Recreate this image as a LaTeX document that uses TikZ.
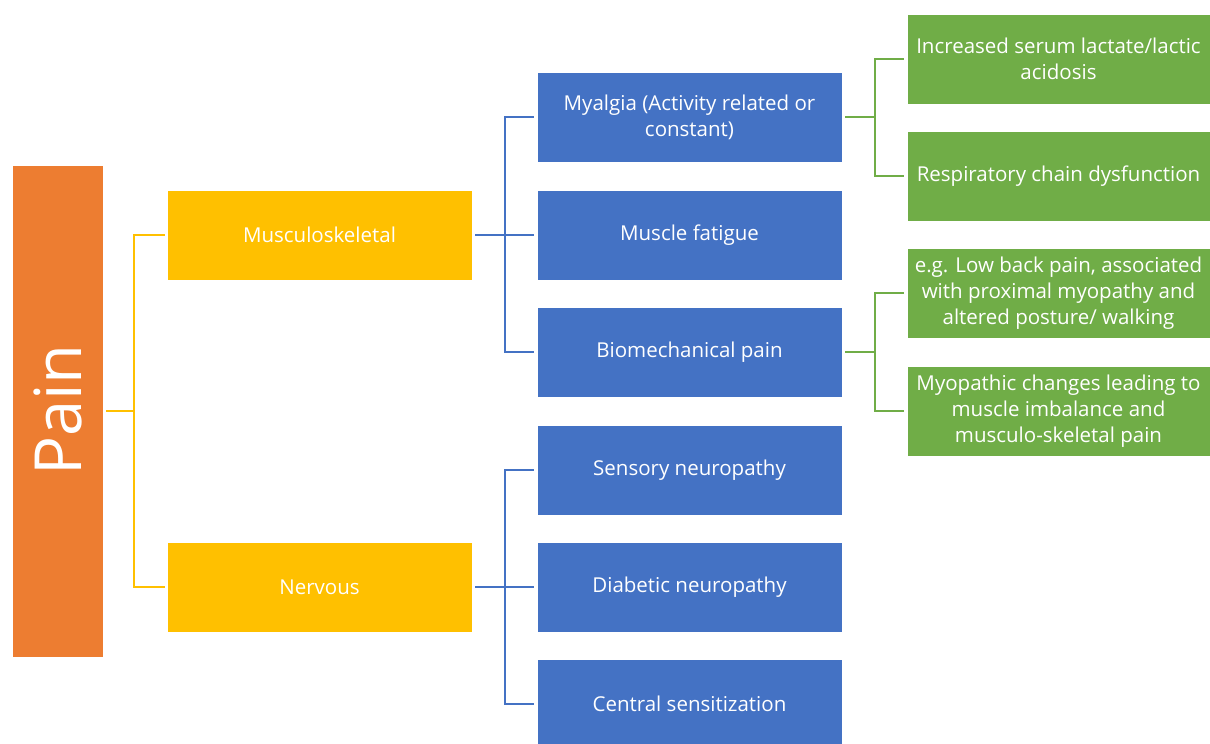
\documentclass[tikz,border=0pt]{standalone}
\usepackage{fontspec}
\setmainfont{Open Sans}
\definecolor{painor}{HTML}{ED7D31}
\definecolor{gold}{HTML}{FFC000}
\definecolor{bl}{HTML}{4472C4}
\definecolor{gr}{HTML}{70AD47}
\tikzset{
  box/.style={draw=white, line width=0.8pt, text=white, align=center, inner sep=0pt,
    font=\fontsize{20.5}{26}\selectfont},
  painbox/.style={box, fill=painor, minimum width=91, minimum height=492},
  lvone/.style={box, fill=gold, minimum width=305, minimum height=90},
  lvtwo/.style={box, fill=bl, minimum width=305, minimum height=90},
  lvthree/.style={box, fill=gr, minimum width=303, minimum height=90},
  yl/.style={draw=gold, line width=2pt},
  bll/.style={draw=bl, line width=2pt},
  grl/.style={draw=gr, line width=2pt},
}
\begin{document}
\begin{tikzpicture}[x=1pt,y=-1pt]
\useasboundingbox (0,0) rectangle (1210,744);
\node[painbox] (pain) at (57.5,411) {};
\node[text=white, rotate=90, font=\fontsize{65}{72}\selectfont] (paintxt) at (57.5,410) {Pain};
\node[lvone] (ms) at (319.5,235) {Musculoskeletal};
\node[lvone] (nv) at (319.5,587) {Nervous};
\node[lvtwo] (my) at (689.5,117) {Myalgia (Activity related or\\constant)};
\node[lvtwo] (mf) at (689.5,235) {Muscle fatigue};
\node[lvtwo] (bp) at (689.5,352) {Biomechanical pain};
\node[lvtwo] (sn) at (689.5,470) {Sensory neuropathy};
\node[lvtwo] (dn) at (689.5,587) {Diabetic neuropathy};
\node[lvtwo] (cs) at (689.5,704) {Central sensitization};
\node[lvthree] (g1) at (1058.5,59) {Increased serum lactate/lactic\\acidosis};
\node[lvthree] (g2) at (1058.5,176) {Respiratory chain dysfunction};
\node[lvthree] (g3) at (1058.5,293) {e.g. Low back pain, associated\\with proximal myopathy and\\altered posture/ walking};
\node[lvthree] (g4) at (1058.5,411) {Myopathic changes leading to\\muscle imbalance and\\musculo-skeletal pain};
% connectors
\coordinate (j1) at (134,411);
\draw[yl] ([xshift=3]pain.east) -- (j1);
\draw[yl] ([xshift=-2]ms.west) -| (j1) |- ([xshift=-2]nv.west);
\coordinate (j2) at (505,235);
\draw[bll] ([xshift=3]ms.east) -- ([xshift=-3]mf.west);
\draw[bll] ([xshift=-3]my.west) -| (j2) |- ([xshift=-3]bp.west);
\coordinate (j3) at (505,587);
\draw[bll] ([xshift=3]nv.east) -- ([xshift=-3]dn.west);
\draw[bll] ([xshift=-3]sn.west) -| (j3) |- ([xshift=-3]cs.west);
\coordinate (j4) at (875,117);
\draw[grl] ([xshift=3]my.east) -- (j4);
\draw[grl] ([xshift=-3]g1.west) -| (j4) |- ([xshift=-3]g2.west);
\coordinate (j5) at (875,352);
\draw[grl] ([xshift=3]bp.east) -- (j5);
\draw[grl] ([xshift=-3]g3.west) -| (j5) |- ([xshift=-3]g4.west);
\end{tikzpicture}
\end{document}
